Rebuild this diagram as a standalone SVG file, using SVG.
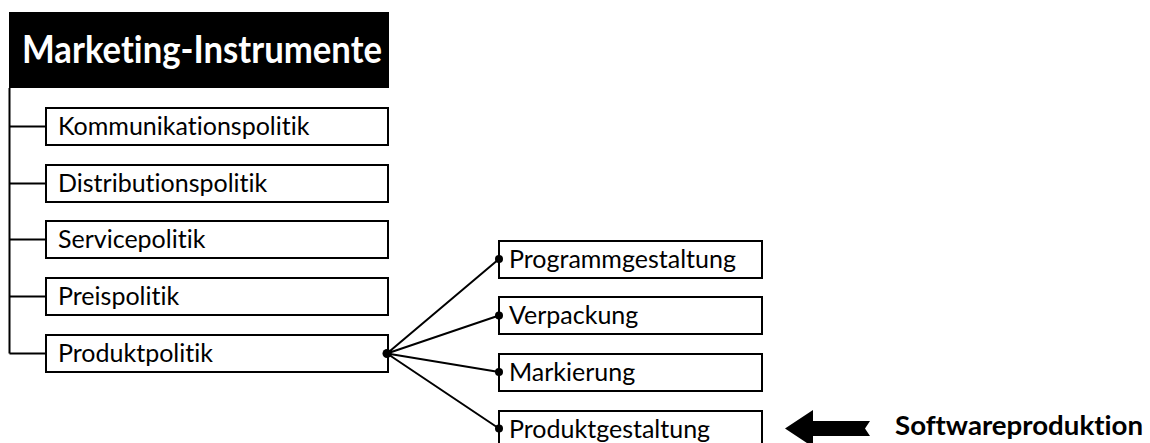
<svg xmlns="http://www.w3.org/2000/svg" width="1150" height="443" viewBox="0 0 1150 443">
<style>
.box{fill:#fff;stroke:#000;stroke-width:2}
.t{font-family:Lato,"Open Sans",sans-serif;font-size:25px;fill:#000;font-variant-ligatures:none}
.c{stroke:#000;stroke-width:2;fill:none}
.d{fill:#000}
</style>
<rect width="1150" height="443" fill="#fff"/>
<g id="header">
<rect x="9" y="12" width="380" height="76" fill="#000"/>
<text x="22" y="63" font-family="Lato,'Open Sans',sans-serif" font-weight="bold" font-size="38" fill="#fff" style="font-variant-ligatures:none" textLength="360" lengthAdjust="spacingAndGlyphs">Marketing-Instrumente</text>
</g>
<g id="kommunikation"><rect class="box" x="46" y="108" width="342" height="37"/><text class="t" x="58" y="135">Kommunikationspolitik</text></g>
<g id="distribution"><rect class="box" x="46" y="165" width="342" height="37"/><text class="t" x="58" y="192">Distributionspolitik</text></g>
<g id="service"><rect class="box" x="46" y="221" width="342" height="37"/><text class="t" x="58" y="248">Servicepolitik</text></g>
<g id="preis"><rect class="box" x="46" y="278" width="342" height="37"/><text class="t" x="58" y="305">Preispolitik</text></g>
<g id="produkt"><rect class="box" x="46" y="335" width="342" height="37"/><text class="t" x="58" y="362">Produktpolitik</text></g>
<g id="programm"><rect class="box" x="499" y="241" width="263" height="37"/><text class="t" x="509" y="268">Programmgestaltung</text></g>
<g id="verpackung"><rect class="box" x="499" y="297" width="263" height="37"/><text class="t" x="509" y="324">Verpackung</text></g>
<g id="markierung"><rect class="box" x="499" y="354" width="263" height="37"/><text class="t" x="509" y="381">Markierung</text></g>
<g id="produktgestaltung"><rect class="box" x="499" y="411" width="263" height="37"/><text class="t" x="509" y="438">Produktgestaltung</text></g>
<g id="software">
<polygon fill="#000" points="785,428.5 813,410 813,421 870,421 865,428.5 870,436 813,436 813,447"/>
<text x="895" y="435" font-family="Lato,'Open Sans',sans-serif" font-weight="bold" font-size="27" fill="#000" style="font-variant-ligatures:none" textLength="248" lengthAdjust="spacingAndGlyphs">Softwareproduktion</text>
</g>
<g id="connectors">
<path class="c" d="M9.5 88 V353.5 M9.5 126.5 H46 M9.5 183.5 H46 M9.5 239.5 H46 M9.5 296.5 H46 M9.5 353.5 H46"/>
<path class="c" d="M387 353.5 L499 259 M387 353.5 L499 315.5 M387 353.5 L499 372 M387 353.5 L499 428.5"/>
<circle class="d" cx="387" cy="353.5" r="4.5"/>
<circle class="d" cx="499" cy="259" r="4"/>
<circle class="d" cx="499" cy="315.5" r="4"/>
<circle class="d" cx="499" cy="372" r="4"/>
<circle class="d" cx="499" cy="428.5" r="4"/>
</g>
</svg>
